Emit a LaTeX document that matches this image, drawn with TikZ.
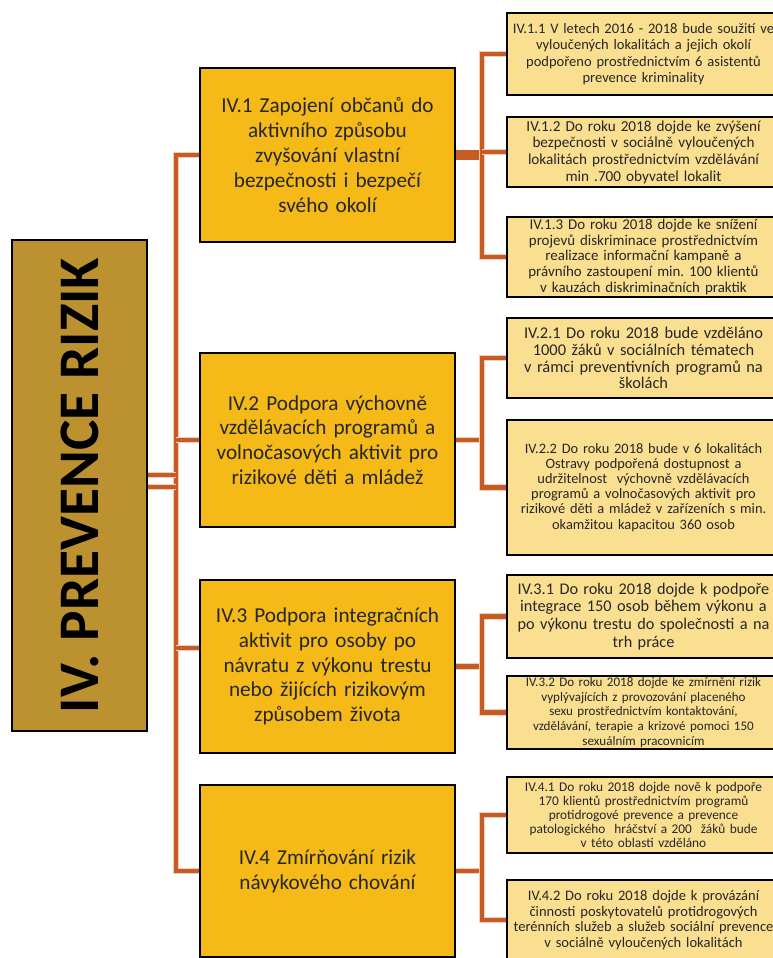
\documentclass[tikz,border=0pt]{standalone}
\usepackage{fontspec}
\setmainfont{Carlito}
\frenchspacing
\usepackage{tikz}
\usetikzlibrary{positioning, calc}
\usepackage{xcolor}
\definecolor{rootgold}{HTML}{BC9231}
\definecolor{goalamber}{HTML}{F5BA18}
\definecolor{taskpale}{HTML}{FADF91}
\definecolor{linkorange}{HTML}{C65B26}
\definecolor{linkhalo}{HTML}{F3CDB6}
\definecolor{textgray}{HTML}{262626}
\tikzset{
  rootbox/.style={
    rectangle, draw=black, line width=1.4pt, fill=rootgold,
    minimum width=101.25pt, minimum height=368.25pt, inner sep=0pt,
    font=\fontsize{43}{50}\selectfont\bfseries
  },
  goalbox/.style={
    rectangle, draw=black, line width=1.4pt, fill=goalamber,
    minimum width=191.25pt, minimum height=#1, inner sep=2pt,
    text width=185pt, align=center, text=textgray,
    font=\fontsize{15.9}{18.6}\selectfont
  },
  taskbox/.style={
    rectangle, draw=black, line width=1.4pt, fill=taskpale,
    minimum width=204.75pt, minimum height=#1, inner sep=0.5pt,
    text width=203pt, align=center, text=textgray
  },
  link/.style={
    linkorange, line width=3.6pt,
    preaction={draw=linkhalo, line width=4.6pt}
  }
}

\begin{document}
\begin{tikzpicture}[x=0.75pt, y=-0.75pt]
  \useasboundingbox (0,0) rectangle (773,958);
  % Hlavni oblast
  \node[rootbox] (root) at (79.5,485.5)
    {\rotatebox{90}{IV. PREVENCE RIZIK}};
  % Cile
  \node[goalbox=130.5pt] (g1) at (327.5,155)
    {IV.1 Zapojení občanů do\\ aktivního způsobu\\ zvyšování vlastní\\
     bezpečnosti i bezpečí\\ svého okolí};
  \node[goalbox=130.5pt] (g2) at (327.5,440)
    {IV.2 Podpora výchovně\\ vzdělávacích programů a\\
     volnočasových aktivit pro\\ rizikové děti a mládež};
  \node[goalbox=129.75pt] (g3) at (327.5,666.5)
    {IV.3 Podpora integračních\\ aktivit pro osoby po\\
     návratu z výkonu trestu\\ nebo žijících rizikovým\\ způsobem života};
  \node[goalbox=129pt] (g4) at (327.5,871)
    {IV.4 Zmírňování rizik\\ návykového chování};
  % Opatreni
  \node[taskbox=61.5pt, font=\fontsize{10.9}{12.2}\selectfont] (t11) at (643.5,54)
    {IV.1.1 V letech 2016 - 2018 bude soužití ve\\
     vyloučených lokalitách a jejich okolí\\
     podpořeno prostřednictvím 6 asistentů\\ prevence kriminality};
  \node[taskbox=52.5pt, font=\fontsize{11.4}{12.5}\selectfont] (t12) at (643.5,152)
    {IV.1.2 Do roku 2018 dojde ke zvýšení\\
     bezpečnosti v sociálně vyloučených\\
     lokalitách prostřednictvím vzdělávání\\ min .700 obyvatel lokalit};
  \node[taskbox=60pt, font=\fontsize{11.2}{11.8}\selectfont] (t13) at (643.5,257)
    {IV.1.3 Do roku 2018 dojde ke snížení\\
     projevů diskriminace prostřednictvím\\
     realizace informační kampaně a\\
     právního zastoupení min. 100 klientů\\
     v kauzách diskriminačních praktik};
  \node[taskbox=60pt, font=\fontsize{12.3}{12.6}\selectfont] (t21) at (643.5,358)
    {IV.2.1 Do roku 2018 bude vzděláno\\ 1000 žáků v sociálních tématech\\
     v rámci preventivních programů na\\ školách};
  \node[taskbox=101.25pt, font=\fontsize{10.8}{11.3}\selectfont] (t22) at (643.5,487.5)
    {IV.2.2 Do roku 2018 bude v 6 lokalitách\\
     Ostravy podpořená dostupnost a\\
     udržitelnost \ výchovně vzdělávacích\\
     programů a volnočasových aktivit pro\\
     rizikové děti a mládež v zařízeních s min.\\
     okamžitou kapacitou 360 osob};
  \node[taskbox=62.25pt, font=\fontsize{12.2}{13.3}\selectfont] (t31) at (643.5,616.5)
    {IV.3.1 Do roku 2018 dojde k podpoře\\
     integrace 150 osob během výkonu a\\
     po výkonu trestu do společnosti a na\\ trh práce};
  \node[taskbox=53.25pt, font=\fontsize{9.8}{11.2}\selectfont] (t32) at (643.5,712.5)
    {IV.3.2 Do roku 2018 dojde ke zmírnění rizik\\
     vyplývajících z provozování placeného\\
     sexu prostřednictvím kontaktování,\\
     vzdělávání, terapie a krizové pomoci 150\\ sexuálním pracovnicím};
  \node[taskbox=57pt, font=\fontsize{10}{10.6}\selectfont] (t41) at (643.5,815)
    {IV.4.1 Do roku 2018 dojde nově k podpoře\\
     170 klientů prostřednictvím programů\\
     protidrogové prevence a prevence\\
     patologického \ hráčství a 200 \ žáků bude\\ v této oblasti vzděláno};
  \node[taskbox=60pt, font=\fontsize{10.9}{11.7}\selectfont] (t42) at (643.5,920)
    {IV.4.2 Do roku 2018 dojde k provázání\\
     činnosti poskytovatelů protidrogových\\
     terénních služeb a služeb sociální prevence\\
     v sociálně vyloučených lokalitách};
  % Spojnice
  \coordinate (spine) at (176,0);
  \coordinate (fork) at (482,0);
  \draw[link] (g1.west) -- (g1.west -| spine) -- (g4.west -| spine) -- (g4.west);
  \draw[link] (g2.west) -- (g2.west -| spine);
  \draw[link] ([yshift=13.9pt]g3.west) -- ([yshift=13.9pt]g3.west -| spine);
  \draw[link] ([yshift=7.9pt]root.east) -- ([yshift=7.9pt]root.east -| spine);
  \draw[link] ([yshift=-1.1pt]root.east) -- ([yshift=-1.1pt]root.east -| spine);
  % vetve k opatrenim
  \draw[linkorange, line width=8pt] (g1.east) -- (g1.east -| fork);
  \draw[link] (t11.west) -- (t11.west -| fork) -- (t13.west -| fork) -- (t13.west);
  \draw[link] (t12.west) -- (t12.west -| fork);
  \draw[link] (g2.east) -- (g2.east -| fork);
  \draw[link] (t21.west) -- (t21.west -| fork) -- (t22.west -| fork) -- (t22.west);
  \draw[link] (g3.east) -- (g3.east -| fork);
  \draw[link] (t31.west) -- (t31.west -| fork) -- (t32.west -| fork) -- (t32.west);
  \draw[link] (g4.east) -- (g4.east -| fork);
  \draw[link] (t41.west) -- (t41.west -| fork) -- (t42.west -| fork) -- (t42.west);
\end{tikzpicture}
\end{document}
